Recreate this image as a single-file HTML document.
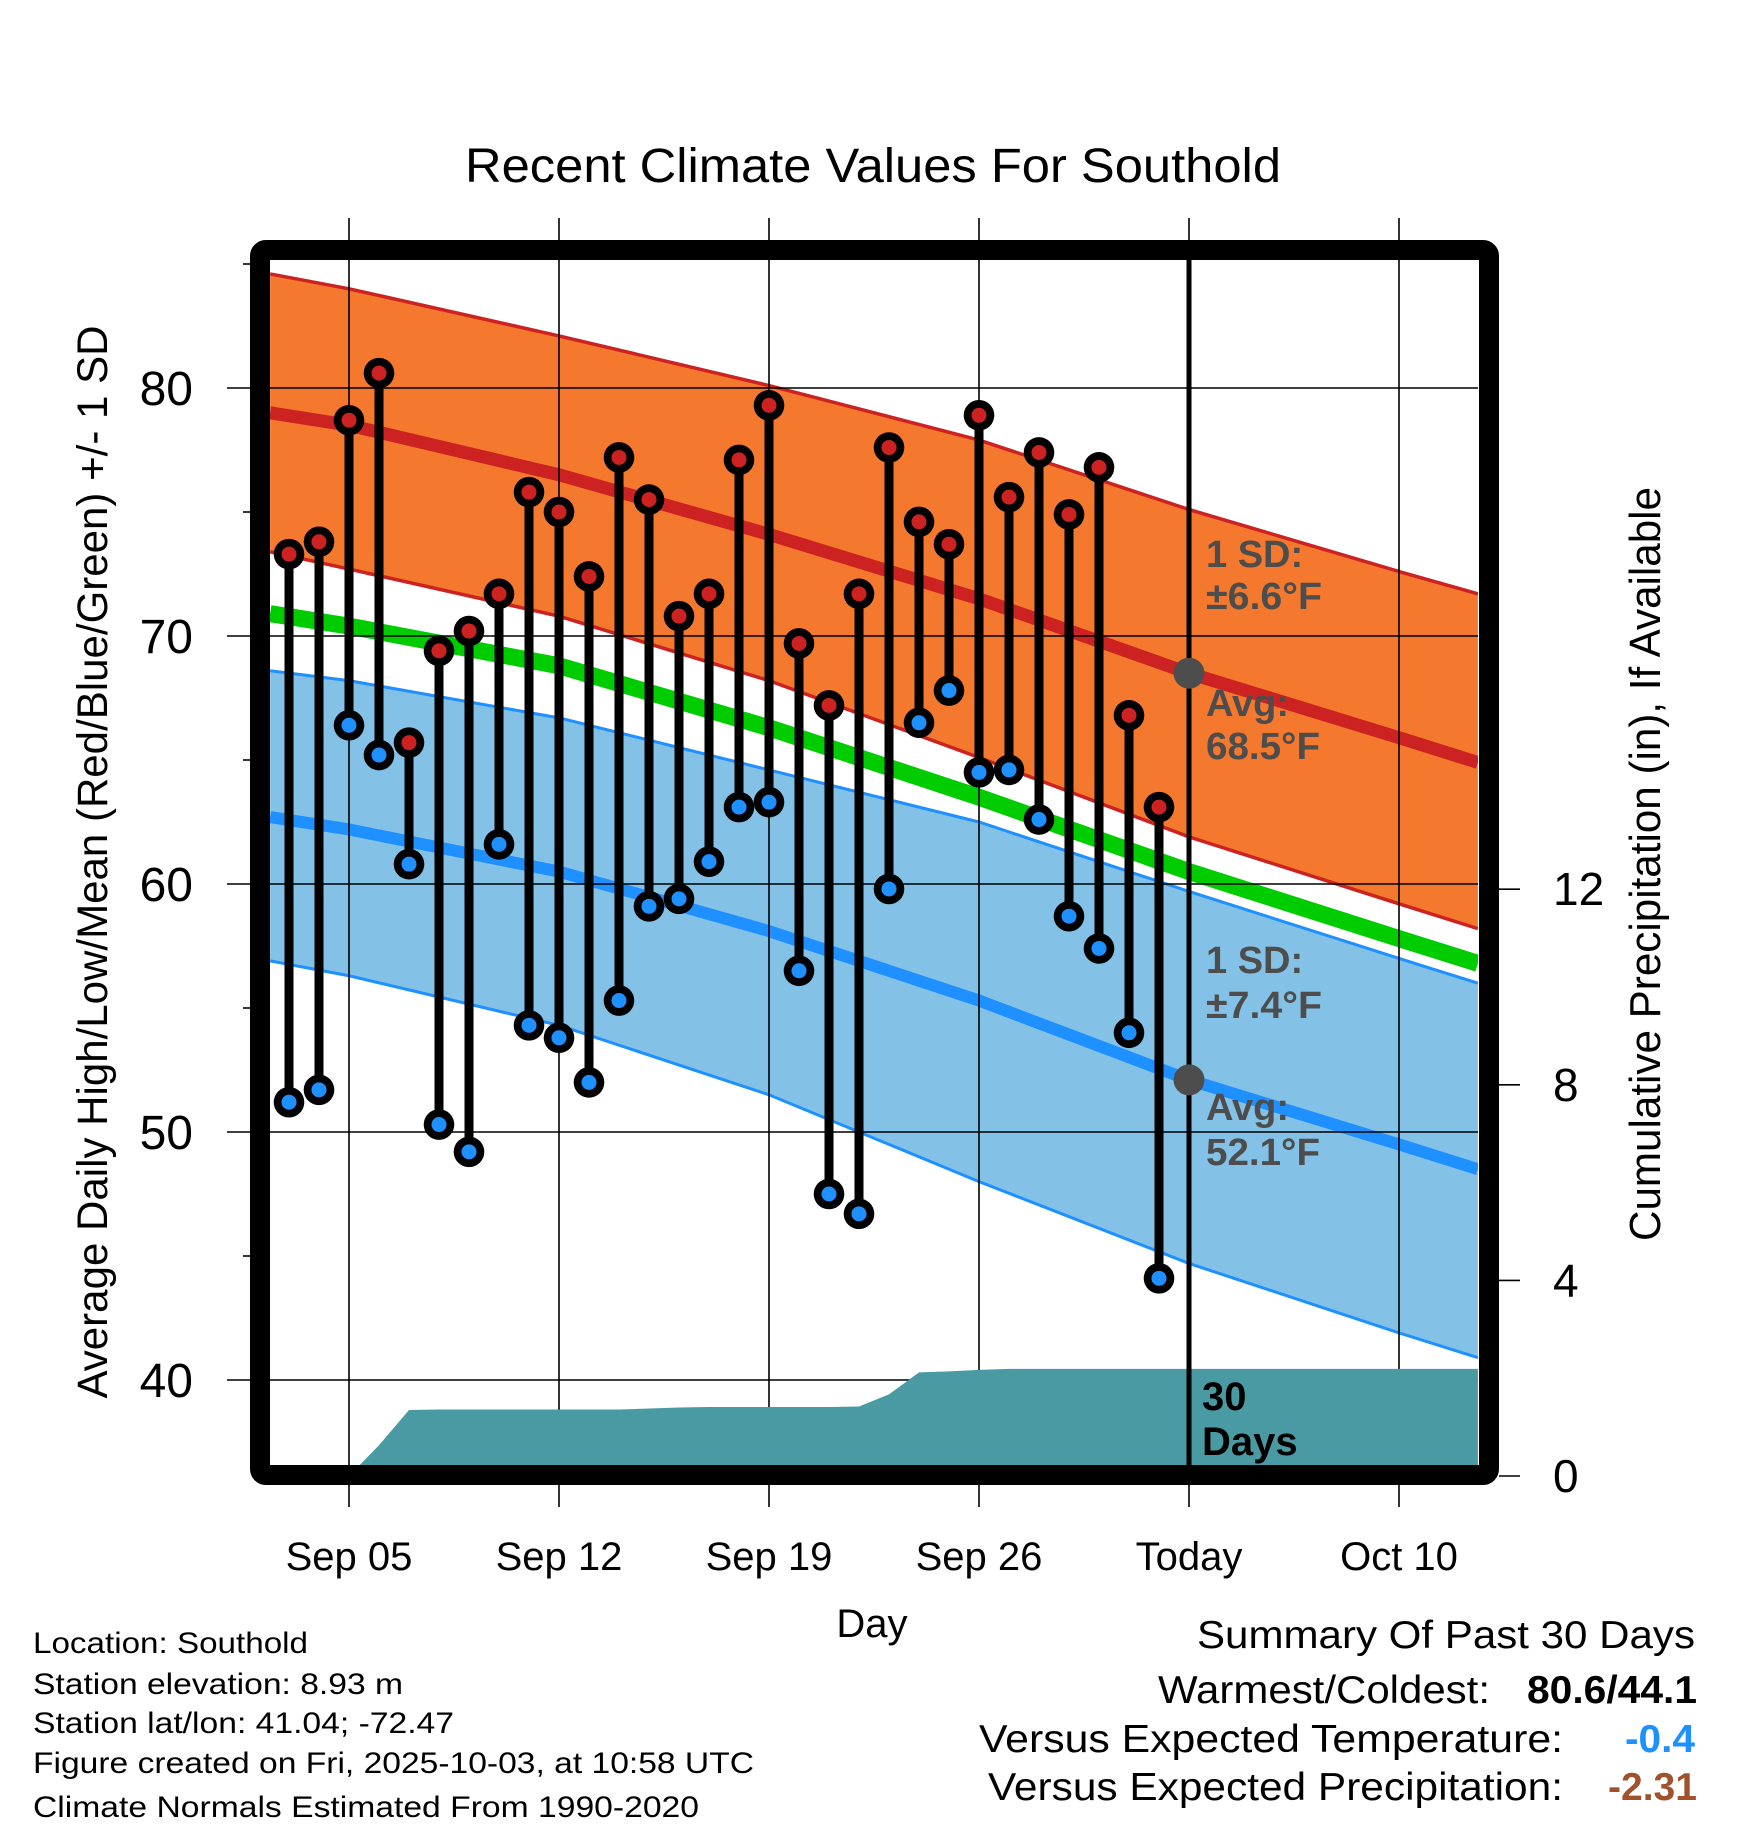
<!DOCTYPE html>
<html><head><meta charset="utf-8"><title>Recent Climate Values For Southold</title>
<style>
html,body{margin:0;padding:0;background:#fff;}
svg{display:block;font-family:"Liberation Sans",Arial,sans-serif;}
</style></head>
<body>
<svg id="chart" xmlns="http://www.w3.org/2000/svg" width="1748" height="1828" viewBox="0 0 1748 1828">
  <defs><clipPath id="plotclip"><rect x="270" y="260" width="1208" height="1206"/></clipPath></defs>
  <g id="bands" clip-path="url(#plotclip)"></g>
  <g id="grid"></g>
  <g id="precip" clip-path="url(#plotclip)"></g>
  <g id="marks"></g>
  <g id="axes"></g>

  <text x="465" y="182" font-size="48" textLength="816" lengthAdjust="spacingAndGlyphs">Recent Climate Values For Southold</text>
  <text transform="translate(107,862) rotate(-90)" text-anchor="middle" font-size="43" textLength="1073" lengthAdjust="spacingAndGlyphs">Average Daily High/Low/Mean (Red/Blue/Green) +/- 1 SD</text>
  <text transform="translate(1660,864) rotate(-90)" text-anchor="middle" font-size="44" textLength="754" lengthAdjust="spacingAndGlyphs">Cumulative Precipitation (in), If Available</text>
  <text x="872" y="1637" text-anchor="middle" font-size="40">Day</text>

  <g font-weight="bold" font-size="38" fill="#4d4d4d">
    <text x="1206" y="567">1 SD:</text>
    <text x="1206" y="609" textLength="116" lengthAdjust="spacingAndGlyphs">±6.6°F</text>
    <text x="1206" y="716">Avg:</text>
    <text x="1206" y="759" textLength="114" lengthAdjust="spacingAndGlyphs">68.5°F</text>
    <text x="1206" y="973">1 SD:</text>
    <text x="1206" y="1018" textLength="116" lengthAdjust="spacingAndGlyphs">±7.4°F</text>
    <text x="1206" y="1120">Avg:</text>
    <text x="1206" y="1165" textLength="114" lengthAdjust="spacingAndGlyphs">52.1°F</text>
  </g>
  <text x="1202" y="1410" font-size="40" font-weight="bold">30</text>
  <text x="1202" y="1455" font-size="40" font-weight="bold">Days</text>

  <g font-size="30">
    <text x="33" y="1653" textLength="275" lengthAdjust="spacingAndGlyphs">Location: Southold</text>
    <text x="33" y="1694" textLength="370" lengthAdjust="spacingAndGlyphs">Station elevation: 8.93 m</text>
    <text x="33" y="1733" textLength="421" lengthAdjust="spacingAndGlyphs">Station lat/lon: 41.04; -72.47</text>
    <text x="33" y="1773" textLength="721" lengthAdjust="spacingAndGlyphs">Figure created on Fri, 2025-10-03, at 10:58 UTC</text>
    <text x="33" y="1817" textLength="666" lengthAdjust="spacingAndGlyphs">Climate Normals Estimated From 1990-2020</text>
  </g>

  <g font-size="39">
    <text x="1197" y="1648" textLength="498" lengthAdjust="spacingAndGlyphs">Summary Of Past 30 Days</text>
    <text x="1158" y="1703" textLength="332" lengthAdjust="spacingAndGlyphs">Warmest/Coldest:</text>
    <text x="1527" y="1703" font-weight="bold" textLength="170" lengthAdjust="spacingAndGlyphs">80.6/44.1</text>
    <text x="979" y="1752" textLength="584" lengthAdjust="spacingAndGlyphs">Versus Expected Temperature:</text>
    <text x="1625" y="1752" font-weight="bold" fill="#1E90FF" textLength="70" lengthAdjust="spacingAndGlyphs">-0.4</text>
    <text x="988" y="1800" textLength="575" lengthAdjust="spacingAndGlyphs">Versus Expected Precipitation:</text>
    <text x="1608" y="1800" font-weight="bold" fill="#A0522D" textLength="89" lengthAdjust="spacingAndGlyphs">-2.31</text>
  </g>
</svg>
<script>
// ---- data ----
var normalDays = [-2.63, 0, 7, 14, 21, 28, 35, 37.63];   // days relative to Sep 05
var highUpper  = [84.6, 84.0, 82.1, 80.1, 77.9, 75.1, 72.6, 71.7];
var highAvg    = [79.0, 78.5, 76.5, 74.1, 71.5, 68.5, 65.9, 64.9];
var highLower  = [73.4, 72.7, 70.8, 68.2, 65.1, 61.9, 59.2, 58.2];
var meanAvg    = [70.9, 70.4, 68.8, 66.3, 63.5, 60.5, 57.8, 56.8];
var lowUpper   = [68.6, 68.2, 66.7, 64.6, 62.5, 59.7, 57.0, 56.0];
var lowAvg     = [62.7, 62.2, 60.5, 58.1, 55.3, 52.1, 49.5, 48.5];
var lowLower   = [56.9, 56.3, 54.3, 51.5, 48.0, 44.7, 41.9, 40.9];
var obsDays    = [-2,-1,0,1,2,3,4,5,6,7,8,9,10,11,12,13,14,15,16,17,18,19,20,21,22,23,24,25,26,27];
var highs = [73.3,73.8,78.7,80.6,65.7,69.4,70.2,71.7,75.8,75.0,72.4,77.2,75.5,70.8,71.7,77.1,79.3,69.7,67.2,71.7,77.6,74.6,73.7,78.9,75.6,77.4,74.9,76.8,66.8,63.1];
var lows  = [51.2,51.7,66.4,65.2,60.8,50.3,49.2,61.6,54.3,53.8,52.0,55.3,59.1,59.4,60.9,63.1,63.3,56.5,47.5,46.7,59.8,66.5,67.8,64.5,64.6,62.6,58.7,57.4,54.0,44.1];
var precipDays = [-2.63,-2,-1,0,1,2,3,4,5,6,7,8,9,10,11,12,13,14,15,16,17,18,19,20,21,22,23,24,25,26,27,37.63];
var precipCum  = [0,0,0,0,0.63,1.35,1.36,1.36,1.36,1.36,1.36,1.36,1.36,1.38,1.40,1.41,1.41,1.41,1.41,1.41,1.42,1.67,2.12,2.14,2.17,2.19,2.19,2.19,2.19,2.19,2.19,2.19];
var xTickDays   = [0, 7, 14, 21, 28, 35];
var xTickLabels = ["Sep 05","Sep 12","Sep 19","Sep 26","Today","Oct 10"];
var yMajor = [40,50,60,70,80];
var yMinor = [45,55,65,75,85];
var pTicks = [0,4,8,12];
var todayDay = 28;
var todayHighAvg = 68.5;
var todayLowAvg = 52.1;

// ---- axis functions ----
function X(d){ return 349 + 30*d; }
function Y(t){ return 388 + (80 - t)*24.8; }
function P(p){ return 1476 - p*48.9; }
var NS = "http://www.w3.org/2000/svg";
function mk(tag, attrs, parent){
  var e = document.createElementNS(NS, tag);
  for (var k in attrs) e.setAttribute(k, attrs[k]);
  parent.appendChild(e); return e;
}
function linePts(days, vals){ return days.map(function(d,i){return X(d)+","+Y(vals[i]);}); }
function bandPts(days, up, lo){
  var a = linePts(days, up);
  var b = linePts(days, lo).reverse();
  return a.concat(b).join(" ");
}

var bands = document.getElementById("bands");
var e;
e = mk("polygon", {points: bandPts(normalDays, highUpper, highLower), fill:"#F4782D"}, bands);


e = mk("polygon", {points: bandPts(normalDays, lowUpper, lowLower), fill:"#83C1E7"}, bands);


var lineSpecs = [
  [highUpper, "#CC2222", 3.5, "high-upper-line"],
  [highLower, "#CC2222", 3.5, "high-lower-line"],
  [lowUpper, "#1E90FF", 3, "low-upper-line"],
  [lowLower, "#1E90FF", 3, "low-lower-line"],
  [meanAvg, "#00CC00", 17, "mean-avg-line"],
  [highAvg, "#CC2222", 13, "high-avg-line"],
  [lowAvg, "#1E90FF", 12, "low-avg-line"]
];
lineSpecs.forEach(function(s){
  var l = mk("polyline", {points: linePts(normalDays, s[0]).join(" "), fill:"none", stroke:s[1], "stroke-width":s[2]}, bands);
  
  
});

// grid
var grid = document.getElementById("grid");
yMajor.forEach(function(t){
  var g = mk("line", {x1:227, x2:1478, y1:Y(t), y2:Y(t), stroke:"#000", "stroke-width":1.6}, grid);
  
  
});
yMinor.forEach(function(t){
  var g = mk("line", {x1:243, x2:255, y1:Y(t), y2:Y(t), stroke:"#000", "stroke-width":1.6}, grid);
  
  
});
xTickDays.forEach(function(d){
  var g = mk("line", {x1:X(d), x2:X(d), y1:218, y2:1507, stroke:"#000", "stroke-width":1.6}, grid);
  
  
});

// precip
var precip = document.getElementById("precip");
var pp = precipDays.map(function(d,i){return X(d)+","+P(precipCum[i]);});
pp.push(X(precipDays[precipDays.length-1])+","+P(0));
pp.push(X(precipDays[0])+","+P(0));
e = mk("polygon", {points: pp.join(" "), fill:"#4A9AA3"}, precip);



// today line
var marks = document.getElementById("marks");
e = mk("line", {x1:X(todayDay), x2:X(todayDay), y1:260, y2:1466, stroke:"#000", "stroke-width":5}, marks);



// stems and markers
obsDays.forEach(function(d,i){
  var x = X(d);
  var s = mk("line", {x1:x, x2:x, y1:Y(highs[i]), y2:Y(lows[i]), stroke:"#000", "stroke-width":9}, marks);
  
  
});
obsDays.forEach(function(d,i){
  var x = X(d);
  [[highs[i], "#CC2222", "high-marker"], [lows[i], "#1E90FF", "low-marker"]].forEach(function(m){
    var g = mk("g", {}, marks);
    
    
    mk("circle", {cx:x, cy:Y(m[0]), r:15.3, fill:"#000"}, g);
    mk("circle", {cx:x, cy:Y(m[0]), r:7.5, fill:m[1]}, g);
  });
});
e = mk("circle", {cx:X(todayDay), cy:Y(todayHighAvg), r:15.5, fill:"#4d4d4d"}, marks);


e = mk("circle", {cx:X(todayDay), cy:Y(todayLowAvg), r:15.5, fill:"#4d4d4d"}, marks);



// axes: frame, tick labels
var axes = document.getElementById("axes");
e = mk("rect", {x:260, y:250, width:1229, height:1225, rx:6, fill:"none", stroke:"#000", "stroke-width":20}, axes);


yMajor.forEach(function(t){
  var tx = mk("text", {x:193, y:Y(t)+17, "text-anchor":"end", "font-size":48}, axes);
  tx.textContent = String(t);
  
  
});
xTickDays.forEach(function(d,i){
  var tx = mk("text", {x:X(d), y:1570, "text-anchor":"middle", "font-size":40}, axes);
  tx.textContent = xTickLabels[i];
  
  
});
pTicks.forEach(function(p){
  var tk = mk("line", {x1:1499, x2:1520, y1:P(p), y2:P(p), stroke:"#000", "stroke-width":1.6}, axes);
  
  
  var tx = mk("text", {x:1553, y:P(p)+16, "font-size":46}, axes);
  tx.textContent = String(p);
  
  
});
</script>
</body></html>
